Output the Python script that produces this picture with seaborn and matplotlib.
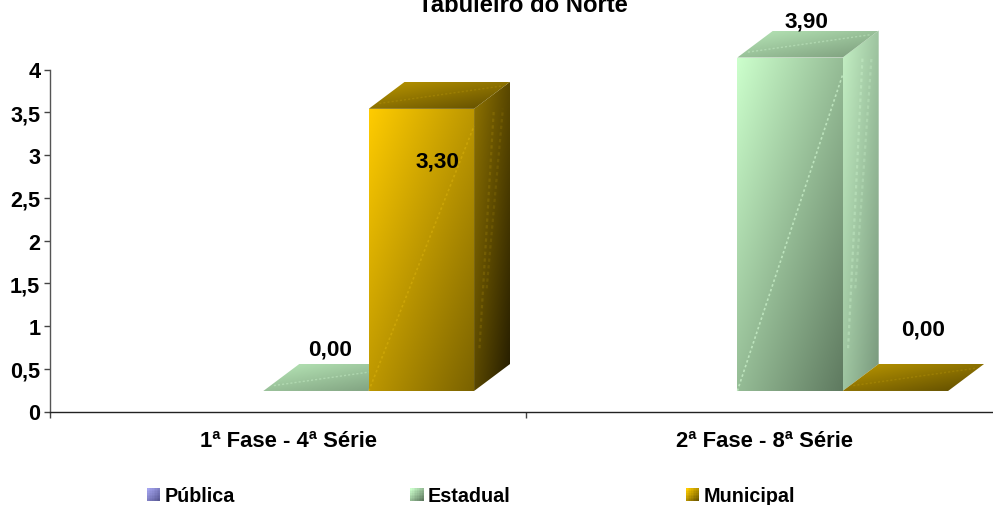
import matplotlib
matplotlib.use("Agg")
import matplotlib.pyplot as plt
import matplotlib.colors as mc
from matplotlib.legend_handler import HandlerBase
from matplotlib.patches import Polygon, Patch, Rectangle
import numpy as np
import pandas as pd
import seaborn as sns

title = "Tabuleiro do Norte"
categories = ["1ª Fase - 4ª Série", "2ª Fase - 8ª Série"]
series_names = ["Pública", "Estadual", "Municipal"]
publica = [np.nan, np.nan]
estadual = [0.00, 3.90]
municipal = [3.30, 0.00]
y_ticks = [0, 0.5, 1, 1.5, 2, 2.5, 3, 3.5, 4]
y_tick_labels = ["0", "0,5", "1", "1,5", "2", "2,5", "3", "3,5", "4"]

W, H = 993, 506
FS_TITLE = 17.2
FS_CAT = 15.8
FS_TICK = 15.6
FS_VAL = 16.2
FS_LEG = 14.2
FLOOR = 0.24
PX_X, PX_Y = 474.0, 85.5
DX, DY = 36 / PX_X, 27 / PX_Y

sns.set_theme(style="white")
plt.rcParams["font.family"] = ["Liberation Sans", "DejaVu Sans"]
plt.rcParams["font.weight"] = "bold"
plt.rcParams["text.color"] = "black"

df = pd.DataFrame({
    "categoria": categories * 3,
    "serie": sum([[s] * 2 for s in series_names], []),
    "valor": publica + estadual + municipal,
})

base_colors = {"Pública": "#8E8EDC", "Estadual": "#A6D6A6", "Municipal": "#C8A000"}
faces = {
    "Estadual": dict(front=("#CCFFCC", "#5F7A60"), side=("#C4F0C4", "#78987C"),
                     top=("#B8E8B8", "#7A9A7A"), streak="#D8FFD8", a=0.6),
    "Municipal": dict(front=("#FFCC00", "#7A6200"), side=("#907400", "#241C00"),
                      top=("#BC9800", "#5C4A00"), streak="#FFD21A", a=0.25),
}

fig = plt.figure(figsize=(W / 100, H / 100), dpi=100, facecolor="white")
ax = fig.add_axes([50 / W, (H - 412.5) / H, 952 / W, 342 / H])

sns.barplot(data=df, x="categoria", y="valor", hue="serie", order=categories,
            hue_order=series_names, palette=base_colors, width=0.667, gap=0,
            dodge=True, saturation=1, legend=False, bottom=FLOOR, linewidth=0,
            errorbar=None, ax=ax)

ax.set_xlim((50 - 316) / PX_X, (1002 - 316) / PX_X)
ax.set_ylim(0, 4)
ax.set_autoscale_on(False)
ax.set_facecolor("none")


def gradient(verts, c0, c1, z):
    verts = np.asarray(verts)
    a, b = np.array(mc.to_rgb(c0)), np.array(mc.to_rgb(c1))
    n = 96
    u, v = np.meshgrid(np.linspace(0, 1, n), np.linspace(0, 1, n))
    t = ((u + v) / 2)[..., None]
    img = a + (b - a) * t
    x0, y0 = verts.min(axis=0)
    x1, y1 = verts.max(axis=0)
    im = ax.imshow(img, extent=(x0, x1, y0, y1), origin="upper", aspect="auto",
                   interpolation="bilinear", zorder=z)
    clip = Polygon(verts, closed=True, transform=ax.transData)
    im.set_clip_box(fig.bbox)
    im.set_clip_path(clip)


def streak(p0, p1, color, z, alpha=0.55, lw=1.0):
    ax.plot([p0[0], p1[0]], [p0[1], p1[1]], color=color, lw=lw, alpha=alpha,
            ls=(0, (1.5, 1.5)), zorder=z, clip_on=False)


colors_by_hex = {mc.to_hex(v): k for k, v in base_colors.items()}
bars = sorted(ax.patches, key=lambda p: p.get_x())
for i, bar in enumerate(bars):
    name = colors_by_hex[mc.to_hex(bar.get_facecolor())]
    f = faces[name]
    x, w, y0, h = bar.get_x(), bar.get_width(), bar.get_y(), bar.get_height()
    y1 = y0 + h
    z = 3 + i
    bar.set_zorder(z)
    bar.set_clip_on(False)
    if h > 0:
        gradient([(x + w, y0), (x + w + DX, y0 + DY), (x + w + DX, y1 + DY), (x + w, y1)],
                 *f["side"], z)
        gradient([(x, y0), (x + w, y0), (x + w, y1), (x, y1)], *f["front"], z + 0.1)
        streak((x, y0), (x + w, y1 - 0.2), f["streak"], z + 0.2, alpha=f["a"], lw=1.2)
        streak((x + w + 0.15 * DX, y0 + 0.5), (x + w + 0.55 * DX, y1), f["streak"], z + 0.2,
               alpha=f["a"] * 0.5, lw=1.6)
        streak((x + w + 0.35 * DX, y0 + 1.2), (x + w + 0.8 * DX, y1), f["streak"], z + 0.2,
               alpha=f["a"] * 0.4, lw=1.6)
    gradient([(x, y1), (x + w, y1), (x + w + DX, y1 + DY), (x + DX, y1 + DY)], *f["top"], z + 0.05)
    streak((x + 0.1 * w, y1 + 0.2 * DY), (x + w + 0.8 * DX, y1 + 0.85 * DY), f["streak"], z + 0.2,
           alpha=f["a"] * 0.6)

# pixel offset of each value label from its bar's top centre
label_offsets = [(14, 42), (16, -52), (16, 37), (28, 62)]
for bar, off in zip(bars, label_offsets):
    val = bar.get_height()
    ax.annotate(f"{val:.2f}".replace(".", ","),
                (bar.get_x() + bar.get_width() / 2, bar.get_y() + val),
                xytext=off, textcoords="offset pixels", ha="center", va="center",
                fontsize=FS_VAL, fontweight="bold", color="black", zorder=50,
                annotation_clip=False)

sns.despine(ax=ax, top=True, right=True)
ax.spines["left"].set_color("#555555")
ax.spines["bottom"].set_color("#222222")
for s in ("left", "bottom"):
    ax.spines[s].set_linewidth(1.0)
ax.set_xlabel("")
ax.set_ylabel("")
ax.set_yticks(y_ticks, y_tick_labels)
ax.tick_params(axis="y", length=4.5, width=1, color="#444444", labelsize=FS_TICK,
               labelcolor="black", pad=2.5, left=True)
label_x = [(288.5 - 316) / PX_X, (764.5 - 316) / PX_X]
ax.set_xticks(label_x, categories)
ax.set_xticks([(50 - 316) / PX_X, (526 - 316) / PX_X], minor=True)
ax.tick_params(axis="x", which="major", length=0, pad=13.5, labelsize=FS_CAT, labelcolor="black")
ax.tick_params(axis="x", which="minor", length=4.5, width=1, color="#444444", bottom=True)
for t in ax.get_xticklabels():
    t.set_fontweight("bold")
for t in ax.get_yticklabels():
    t.set_fontweight("bold")
    t.set_verticalalignment("center_baseline")

fig.text(522.5 / W, 1 - 5 / H, title, ha="center", va="center", fontsize=FS_TITLE,
         fontweight="bold", color="black")

legend_grad = {"Pública": ("#A5A5F0", "#5A5A96"), "Estadual": ("#CCFFCC", "#5F7A60"),
               "Municipal": ("#FFCC00", "#6A5500")}


class GradHandler(HandlerBase):
    def create_artists(self, legend, orig, xd, yd, width, height, fontsize, trans):
        c0, c1 = [np.array(mc.to_rgb(c)) for c in legend_grad[orig.get_label()]]
        n = 8
        arts = []
        side = 13 * 72 / 100
        for i in range(n):
            for j in range(n):
                t = (i + (n - 1 - j)) / (2 * n - 2)
                arts.append(Rectangle((-xd + i * side / n, -yd + (height - side) / 2 + j * side / n),
                                      side / n + 0.1, side / n + 0.1, transform=trans,
                                      facecolor=c0 + (c1 - c0) * t, edgecolor="none",
                                      antialiased=False))
        return arts


handles = [Patch(label=s) for s in series_names]
px = FS_LEG * 100 / 72
fig.legend(handles=handles, labels=series_names, ncol=3, loc="center left",
           bbox_to_anchor=(147 / W, 1 - 497 / H), frameon=False, borderpad=0, borderaxespad=0,
           handlelength=13 / px, handleheight=13 / px, handletextpad=4.5 / px, columnspacing=175.5 / px,
           handler_map={Patch: GradHandler()}, labelcolor="black",
           prop={"size": FS_LEG, "weight": "bold"})

fig.savefig("out.png", dpi=100)
